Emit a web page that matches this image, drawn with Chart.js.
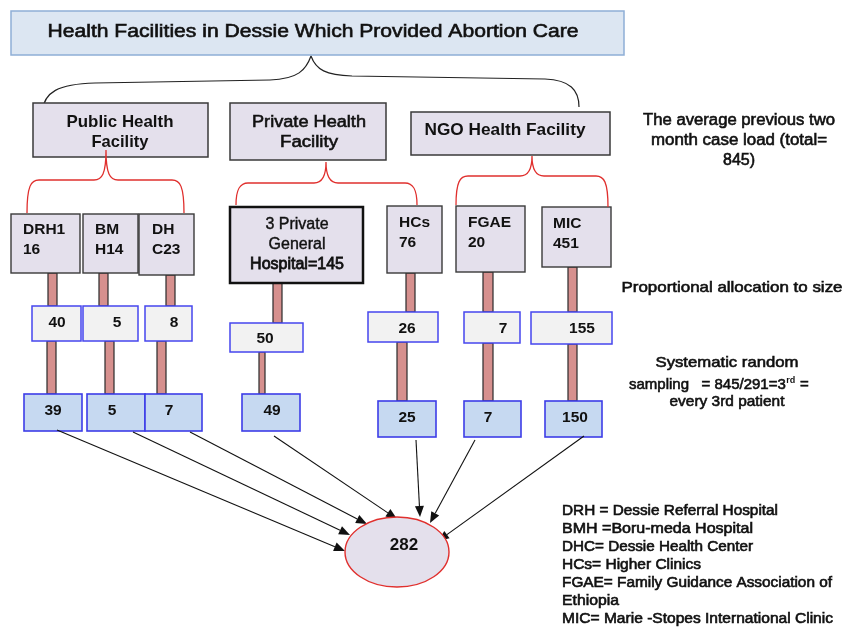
<!DOCTYPE html>
<html>
<head>
<meta charset="utf-8">
<script src="https://cdn.jsdelivr.net/npm/chart.js@4"></script>
<style>
  html, body { margin: 0; padding: 0; background: #fff; }
  canvas { display: block; }
</style>
</head>
<body>
<canvas id="flow" width="844" height="628"></canvas>
<script>
// data
const title = 'Health Facilities in Dessie Which Provided Abortion Care';
const categories = ['Public Health Facility', 'Private Health Facility', 'NGO Health Facility'];
const facilityCodes = ['DRH', 'BMH', 'DHC', '3 Private General Hospital', 'HCs', 'FGAE', 'MIC'];
const facilityGroup = [0, 0, 0, 1, 1, 2, 2];
const caseLoad = [116, 14, 23, 145, 76, 20, 451];
const allocated = [40, 5, 8, 50, 26, 7, 155];
const sampled = [39, 5, 7, 49, 25, 7, 150];
const legendLines = [
  'DRH = Dessie Referral Hospital',
  'BMH =Boru-meda Hospital',
  'DHC= Dessie Health Center',
  'HCs= Higher Clinics',
  'FGAE= Family Guidance Association of',
  'Ethiopia',
  'MIC= Marie -Stopes International Clinic'
];

const totalLoad = caseLoad.reduce((a, b) => a + b, 0);
const totalAlloc = allocated.reduce((a, b) => a + b, 0);
const totalSample = sampled.reduce((a, b) => a + b, 0);

// layout (figure units, 844 x 628)
const W = 844, H = 628;
const titleBox = [11, 11, 624, 55];
const catBox = [[33, 103, 208, 157], [230, 103, 386, 160], [411, 112, 610, 155]];
const catLines = [['Public Health', 'Facility'], ['Private Health', 'Facility'], ['NGO Health Facility']];
const catText = [[120, 122, 20], [309, 122, 20], [505, 130, 0]];
const catTextW = [[107, 57], [114, 58], [161]];
const catBold = [true, false, true];
// red braces: left x, right x, apex x, apex y, mid y, left end y, right end y
const catBrace = [
  [27, 184, 106, 150, 180, 213, 213],
  [236, 417, 326, 162, 183, 205, 205],
  [456, 608, 532, 156, 176, 205, 207]
];
const WRAP_AT = [4, 2, 2, 0, 3, 4, 3];
const facBox = [[11, 214, 80, 273], [83, 214, 138, 273], [139, 214, 194, 275], [230, 207, 363, 283],
  [387, 206, 442, 273], [456, 206, 525, 272], [542, 207, 611, 267]];
const facText = [[23, 230], [95, 230], [152, 230], [297, 225], [399, 223], [468, 223], [553, 224]];
const allocBox = [[32, 306, 81, 341], [83, 306, 138, 341], [145, 306, 192, 341], [230, 323, 303, 352],
  [368, 312, 438, 342], [464, 312, 520, 343], [531, 312, 612, 344]];
const allocText = [[57, 323], [117, 323], [174, 323], [265, 339], [407, 329], [503, 329], [582, 329]];
const sampleBox = [[24, 394, 82, 431], [87, 394, 145, 431], [145, 394, 202, 431], [242, 394, 300, 431],
  [378, 401, 436, 437], [464, 401, 521, 437], [545, 401, 602, 437]];
const sampleText = [[53, 411], [112, 411], [169, 411], [272, 411], [407, 418], [488, 418], [575, 418]];
// connector bars: centre x, width, top, bottom
const upBar = [[52.5, 9, 273, 306], [103.5, 9, 273, 306], [170.5, 9, 275, 306], [277.5, 9, 283, 323],
  [410.5, 9, 273, 312], [488, 10, 272, 312], [572.5, 9, 267, 312]];
const lowBar = [[51.5, 9, 341, 394], [109.5, 9, 341, 394], [161.5, 9, 341, 394], [262, 6, 352, 394],
  [402, 10, 342, 401], [488, 10, 343, 401], [572.5, 9, 344, 401]];
const arrowFrom = [[57, 430], [133, 432], [190, 432], [274, 436], [416, 440], [475, 440], [584, 436]];
const arrowTo = [[345, 551], [350, 535], [367, 524], [397, 519], [420, 517], [430, 523], [438, 541]];
const ellipse = [397, 552, 52, 35];

const FONT = '"Liberation Sans", Arial, sans-serif';

function facilityLines(i) {
  const code = facilityCodes[i], n = caseLoad[i];
  if (i === 3) return ['3 Private', 'General', 'Hospital=' + n];
  const s = code + n;
  return [s.slice(0, WRAP_AT[i]), s.slice(WRAP_AT[i])];
}

const flowPlugin = {
  id: 'flow',
  afterDatasetsDraw(chart) {
    const ctx = chart.ctx;
    const sx = chart.scales.x, sy = chart.scales.y;
    const X = v => sx.getPixelForValue(v);
    const Y = v => sy.getPixelForValue(v);

    function rect(b, fill, stroke, lw) {
      const x = X(b[0]), y = Y(b[1]), w = X(b[2]) - x, h = Y(b[3]) - y;
      ctx.fillStyle = fill;
      ctx.fillRect(x, y, w, h);
      ctx.lineWidth = lw;
      ctx.strokeStyle = stroke;
      ctx.strokeRect(x, y, w, h);
    }
    function txt(s, x, y, o) {
      ctx.save();
      ctx.font = (o.bold ? 'bold ' : '') + o.size + 'px ' + FONT;
      ctx.fillStyle = o.color || '#111';
      ctx.textBaseline = 'middle';
      ctx.textAlign = o.align || 'center';
      const nat = ctx.measureText(s).width;
      ctx.translate(X(x), Y(y));
      if (o.w) ctx.scale(o.w / nat, 1);
      ctx.fillText(s, 0, 0);
      if (o.heavy) {
        ctx.strokeStyle = ctx.fillStyle;
        ctx.lineWidth = o.heavy;
        ctx.strokeText(s, 0, 0);
      }
      ctx.restore();
    }
    function brace(xl, xr, xa, ya, ym, ybl, ybr, color) {
      const r = 12;
      ctx.beginPath();
      ctx.moveTo(X(xl), Y(ybl));
      ctx.bezierCurveTo(X(xl), Y(ym + 6), X(xl + 4), Y(ym), X(xl + r), Y(ym));
      ctx.lineTo(X(xa - r), Y(ym));
      ctx.bezierCurveTo(X(xa - 4), Y(ym), X(xa), Y(ym - 6), X(xa), Y(ya));
      ctx.moveTo(X(xa), Y(ya));
      ctx.bezierCurveTo(X(xa), Y(ym - 6), X(xa + 4), Y(ym), X(xa + r), Y(ym));
      ctx.lineTo(X(xr - r), Y(ym));
      ctx.bezierCurveTo(X(xr - 4), Y(ym), X(xr), Y(ym + 6), X(xr), Y(ybr));
      ctx.strokeStyle = color;
      ctx.lineWidth = 1.3;
      ctx.stroke();
    }

    ctx.save();
    ctx.lineJoin = 'miter';

    // title
    rect(titleBox, '#dce6f2', '#8eaed6', 1.5);
    txt(title, 313, 32, { size: 18, w: 531, heavy: 0.6 });

    // black brace
    ctx.beginPath();
    ctx.moveTo(X(42), Y(112));
    ctx.bezierCurveTo(X(44), Y(92), X(58), Y(84), X(95), Y(83));
    ctx.lineTo(X(270), Y(80));
    ctx.bezierCurveTo(X(298), Y(79), X(306), Y(70), X(311), Y(56));
    ctx.moveTo(X(311), Y(56));
    ctx.bezierCurveTo(X(316), Y(70), X(326), Y(75), X(352), Y(76));
    ctx.lineTo(X(545), Y(79));
    ctx.bezierCurveTo(X(570), Y(80), X(579), Y(90), X(579), Y(107));
    ctx.strokeStyle = '#222';
    ctx.lineWidth = 1.2;
    ctx.stroke();

    // categories
    categories.forEach((c, i) => {
      rect(catBox[i], '#e4e0ec', '#3a3a3a', 1.5);
      const [tx, ty, dy] = catText[i];
      catLines[i].forEach((s, k) => txt(s, tx, ty + k * dy, {
        size: 17, bold: catBold[i], w: catTextW[i][k], heavy: catBold[i] ? 0 : 0.6
      }));
    });

    // connector bars
    function bar(b) {
      const x = X(b[0] - b[1] / 2), y = Y(b[2]), w = X(b[0] + b[1] / 2) - x, h = Y(b[3]) - y;
      ctx.fillStyle = '#d6908e';
      ctx.fillRect(x, y, w, h);
      ctx.strokeStyle = '#2a2a2a';
      ctx.lineWidth = 1.2;
      ctx.strokeRect(x, y, w, h);
    }
    upBar.forEach(bar);
    lowBar.forEach(bar);

    // facilities
    facilityCodes.forEach((c, i) => {
      rect(facBox[i], '#e4e0ec', i === 3 ? '#111' : '#3a3a3a', i === 3 ? 2.5 : 1.4);
      const lines = facilityLines(i);
      const [tx, ty] = facText[i];
      lines.forEach((s, k) => {
        if (i === 3) txt(s, tx, ty + k * 20, { size: 16, heavy: k === 2 ? 0.8 : 0.4 });
        else txt(s, tx, ty + k * 20, { size: 15.5, bold: true, align: 'left' });
      });
    });

    // red braces from the category to its facilities
    catBrace.forEach(b => brace(b[0], b[1], b[2], b[3], b[4], b[5], b[6], '#e0302e'));

    // allocated per facility
    allocated.forEach((v, i) => {
      rect(allocBox[i], '#f2f2f2', '#4646ee', 1.5);
      txt(String(v), allocText[i][0], allocText[i][1], { size: 15.5, bold: true });
    });

    // sampled per facility
    sampled.forEach((v, i) => {
      rect(sampleBox[i], '#c6d9f1', '#3c3ce8', 1.6);
      txt(String(v), sampleText[i][0], sampleText[i][1], { size: 15.5, bold: true });
    });

    // arrows to the total
    ctx.strokeStyle = '#111';
    ctx.fillStyle = '#111';
    arrowFrom.forEach((f, i) => {
      const t = arrowTo[i];
      const x1 = X(f[0]), y1 = Y(f[1]), x2 = X(t[0]), y2 = Y(t[1]);
      const a = Math.atan2(y2 - y1, x2 - x1);
      const L = 11, Wd = 4.5;
      const bx = x2 - L * Math.cos(a), by = y2 - L * Math.sin(a);
      ctx.beginPath();
      ctx.moveTo(x1, y1);
      ctx.lineTo(bx, by);
      ctx.lineWidth = 1.1;
      ctx.stroke();
      ctx.beginPath();
      ctx.moveTo(x2, y2);
      ctx.lineTo(bx + Wd * Math.sin(a), by - Wd * Math.cos(a));
      ctx.lineTo(bx - Wd * Math.sin(a), by + Wd * Math.cos(a));
      ctx.closePath();
      ctx.fill();
    });

    // total
    ctx.beginPath();
    ctx.ellipse(X(ellipse[0]), Y(ellipse[1]), ellipse[2], ellipse[3], 0, 0, Math.PI * 2);
    ctx.fillStyle = '#e4e0ec';
    ctx.fill();
    ctx.strokeStyle = '#e0302e';
    ctx.lineWidth = 1.4;
    ctx.stroke();
    txt(String(totalSample), 404, 545, { size: 17, bold: true });

    // side notes
    txt('The average previous two', 739, 121, { size: 16, w: 192, heavy: 0.6 });
    txt('month case load (total=', 739, 141, { size: 16, w: 176, heavy: 0.6 });
    txt(totalLoad + ')', 739, 161, { size: 16, heavy: 0.6 });
    txt('Proportional allocation to size', 732, 288, { size: 15, w: 221, heavy: 0.6 });
    txt('Systematic random', 727, 363, { size: 15, w: 143, heavy: 0.6 });
    // sampling line with superscript
    ctx.save();
    ctx.font = '15px ' + FONT;
    ctx.fillStyle = '#111';
    ctx.strokeStyle = '#111';
    ctx.lineWidth = 0.6;
    ctx.textBaseline = 'middle';
    ctx.textAlign = 'left';
    const p1 = 'sampling   = ' + totalLoad + '/' + totalAlloc + '=3';
    const w1 = ctx.measureText(p1).width;
    ctx.fillText(p1, X(629), Y(385));
    ctx.strokeText(p1, X(629), Y(385));
    ctx.font = 'bold 9px ' + FONT;
    ctx.fillText('rd', X(629) + w1 + 0.5, Y(381));
    const w2 = ctx.measureText('rd').width;
    ctx.font = '15px ' + FONT;
    ctx.fillText(' =', X(629) + w1 + w2 + 1, Y(385));
    ctx.strokeText(' =', X(629) + w1 + w2 + 1, Y(385));
    ctx.restore();
    txt('every 3rd patient', 727, 402, { size: 15, w: 115, heavy: 0.6 });

    // abbreviations
    const legendW = [216, 191, 191, 139, 270, 57, 271];
    legendLines.forEach((s, i) => txt(s, 562, 511 + i * 18, { size: 14, align: 'left', w: legendW[i], heavy: 0.6 }));

    ctx.restore();
  }
};

new Chart(document.getElementById('flow').getContext('2d'), {
  type: 'scatter',
  data: {
    datasets: [{
      data: sampled.map((v, i) => ({ x: sampleText[i][0], y: sampleText[i][1] })),
      pointRadius: 0
    }]
  },
  options: {
    responsive: false,
    animation: false,
    layout: { padding: 0 },
    plugins: { legend: { display: false }, tooltip: { enabled: false } },
    scales: {
      x: { type: 'linear', min: 0, max: W, display: false },
      y: { type: 'linear', min: 0, max: H, reverse: true, display: false }
    }
  },
  plugins: [flowPlugin]
});
</script>
</body>
</html>
